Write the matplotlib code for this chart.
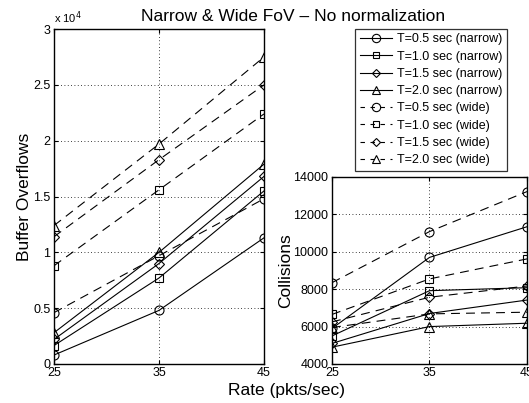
import matplotlib

matplotlib.use("Agg")
import matplotlib.pyplot as plt  # noqa: E402
from matplotlib.lines import Line2D  # noqa: E402

plt.rcParams["font.family"] = ["Liberation Sans", "DejaVu Sans"]

rates = [25, 35, 45]
periods = ["0.5", "1.0", "1.5", "2.0"]
markers = ["o", "s", "D", "^"]

# buffer overflows (counts)
overflow_narrow = [
    [800, 4800, 11300],
    [1650, 7700, 15500],
    [2200, 9000, 16800],
    [2800, 10000, 17900],
]
overflow_wide = [
    [4600, 9700, 14800],
    [8800, 15600, 22400],
    [11400, 18300, 25000],
    [12400, 19700, 27500],
]

# collisions
coll_narrow = [
    [5900, 9700, 11340],
    [5500, 7920, 8080],
    [5100, 6700, 7420],
    [4900, 6000, 6180],
]
coll_wide = [
    [8350, 11080, 13220],
    [6650, 8550, 9620],
    [6250, 7570, 8170],
    [5950, 6680, 6770],
]

fig = plt.figure(figsize=(5.29, 4.03), dpi=100)
ax1 = fig.add_axes([0.102, 0.0968, 0.397, 0.831])
ax2 = fig.add_axes([0.6276, 0.0968, 0.3686, 0.464])

mstyle = dict(color="black", linewidth=0.8, markerfacecolor="none",
              markeredgecolor="black", markeredgewidth=0.8)
msize = {"o": 6.5, "s": 5.5, "D": 5, "^": 6.5}


def draw(ax, narrow, wide, scale):
    for i, m in enumerate(markers):
        ax.plot(rates, [v / scale for v in narrow[i]], marker=m,
                markersize=msize[m], linestyle="-", **mstyle)
        ax.plot(rates, [v / scale for v in wide[i]], marker=m,
                markersize=msize[m], linestyle=(0, (8, 5.5)), **mstyle)
    ax.set_xlim(25, 45)
    ax.set_xticks(rates)
    ax.grid(True, linestyle=(0, (1, 3)), color="black", linewidth=0.6)
    ax.tick_params(direction="in", labelsize=9, length=3, top=True, right=True,
                   pad=2.5)
    for s in ax.spines.values():
        s.set_linewidth(1.0)


draw(ax1, overflow_narrow, overflow_wide, 1e4)
ax1.set_ylim(0, 3)
ax1.set_yticks([0, 0.5, 1, 1.5, 2, 2.5, 3])
ax1.set_yticklabels(["0", "0.5", "1", "1.5", "2", "2.5", "3"])
ax1.set_ylabel("Buffer Overflows", fontsize=12.5, labelpad=1)
ax1.text(0.0, 1.01, r"x 10$^{4}$", transform=ax1.transAxes, fontsize=8,
         ha="left", va="bottom")

draw(ax2, coll_narrow, coll_wide, 1)
ax2.set_ylim(4000, 14000)
ax2.set_yticks([4000, 6000, 8000, 10000, 12000, 14000])
ax2.set_ylabel("Collisions", fontsize=12.5, labelpad=0)

fig.text(0.554, 0.958, "Narrow & Wide FoV \u2013 No normalization",
         ha="center", va="center", fontsize=12.5)
fig.text(0.542, 0.032, "Rate (pkts/sec)", ha="center", va="center",
         fontsize=12.5)

handles = []
labels = []
for i, m in enumerate(markers):
    handles.append(Line2D([], [], marker=m, markersize=msize[m] - 0.5,
                          linestyle="-", **mstyle))
    labels.append(f"T={periods[i]} sec (narrow)")
for i, m in enumerate(markers):
    handles.append(Line2D([], [], marker=m, markersize=msize[m] - 0.5,
                          linestyle=(0, (4, 5)), **mstyle))
    labels.append(f"T={periods[i]} sec (wide)")

leg = fig.legend(handles, labels, loc="upper right",
                 bbox_to_anchor=(0.958, 0.928), fontsize=9,
                 frameon=True, fancybox=False, edgecolor="black",
                 handlelength=2.6, handletextpad=0.4, labelspacing=0.42,
                 borderpad=0.35, borderaxespad=0.0)
leg.get_frame().set_linewidth(0.9)

plt.savefig("out.png", dpi=100)
